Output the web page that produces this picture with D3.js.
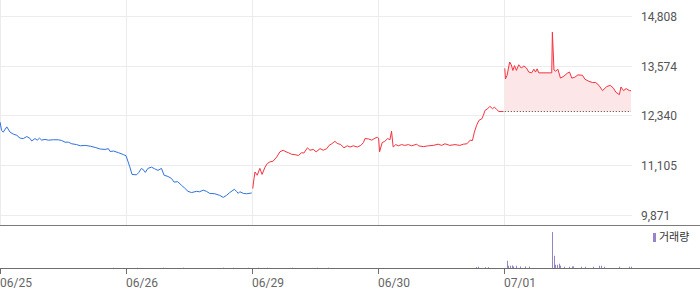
<!DOCTYPE html>
<html>
<head>
<meta charset="utf-8">
<script src="https://cdn.jsdelivr.net/npm/d3@7/dist/d3.min.js"></script>
<style>
    body { margin: 0; background: #fff; }
    svg { display: block; }
</style>
</head>
<body>
<script>
let days = ["06/25", "06/26", "06/29", "06/30", "07/01"];
let yTicks = [9871, 11105, 12340, 13574, 14808];
let prevClose = 12450;

// [minutes after 09:00, price]
let p0625 = [[0,12190],[5,11980],[10,11940],[21,12070],[31,11940],[41,11890],[52,11860],[62,11790],[72,11780],[83,11830],[93,11780],[98,11720],[108,11780],[115,11740],[122,11790],[129,11740],[139,11760],[149,11740],[165,11750],[180,11750],[191,11730],[201,11690],[211,11690],[222,11650],[237,11630],[248,11600],[263,11610],[279,11590],[294,11560],[310,11520],[325,11510],[335,11530],[340,11460],[351,11470],[366,11430],[382,11380],[390,11350]];
let p0626 = [[0,11340],[6,11200],[11,11080],[18,10890],[32,10880],[39,10940],[47,11040],[55,10990],[59,10940],[67,11040],[78,11070],[88,11030],[98,10990],[109,11040],[117,10870],[129,10840],[140,10790],[148,10700],[159,10710],[171,10620],[181,10550],[191,10470],[202,10440],[217,10470],[227,10460],[238,10500],[248,10470],[258,10420],[274,10410],[289,10370],[300,10320],[310,10370],[320,10440],[334,10520],[341,10470],[346,10420],[351,10460],[362,10420],[372,10410],[388,10430]];
let p0629 = [[1,10540],[5,10790],[8,10950],[15,10870],[23,11040],[30,10890],[39,11070],[46,11160],[54,11200],[64,11220],[75,11320],[85,11450],[95,11490],[104,11450],[111,11430],[121,11390],[132,11380],[142,11360],[152,11430],[159,11420],[170,11550],[178,11490],[188,11510],[197,11450],[209,11530],[219,11490],[230,11530],[237,11610],[245,11650],[255,11710],[262,11660],[273,11630],[283,11550],[293,11600],[302,11570],[312,11600],[324,11570],[335,11610],[343,11680],[348,11780],[359,11770],[369,11740],[379,11790],[386,11810]];
let p0630 = [[0,11790],[3,11450],[11,11680],[19,11710],[28,11780],[35,11750],[40,11960],[45,11570],[53,11630],[61,11600],[71,11630],[81,11610],[92,11630],[102,11600],[118,11640],[123,11600],[138,11580],[154,11600],[169,11610],[184,11640],[195,11610],[205,11650],[220,11610],[236,11630],[251,11610],[262,11640],[273,11650],[283,11740],[290,11730],[296,11940],[303,12110],[310,12230],[319,12270],[324,12360],[329,12480],[337,12520],[344,12580],[352,12520],[358,12560],[365,12500],[372,12450],[386,12450]];
let p0701 = [[0,13520],[2,13260],[7,13350],[15,13680],[20,13610],[25,13470],[30,13590],[36,13470],[43,13610],[51,13530],[59,13580],[67,13530],[74,13430],[83,13410],[90,13500],[95,13430],[100,13510],[105,13410],[121,13410],[145,13410],[147,14420],[152,13480],[157,13450],[164,13500],[172,13280],[183,13330],[193,13400],[200,13430],[207,13280],[216,13300],[226,13360],[240,13350],[248,13250],[260,13200],[271,13170],[281,13170],[291,13100],[302,12970],[315,13070],[326,13100],[336,13030],[343,12930],[354,12870],[359,13060],[367,12970],[375,13020],[385,12970],[390,12970]];

// [day index, minutes after 09:00, volume]
let volume = [
    [0,350,300],
    [1,33,300],[1,113,300],[1,175,300],[1,299,300],[1,330,300],[1,376,300],
    [2,17,300],[2,45,300],[2,122,300],[2,199,300],[2,233,300],
    [3,302,1000],[3,308,1300],[3,330,800],[3,339,800],
    [4,6,7300],[4,11,2300],[4,15,2300],[4,21,2600],[4,25,1600],[4,34,2300],[4,46,1600],[4,62,1600],[4,74,1600],
    [4,146,36300],[4,152,12300],[4,156,3300],[4,161,3300],[4,167,4300],[4,170,2300],[4,183,1300],[4,198,1300],
    [4,207,1600],[4,210,1600],[4,237,1300],[4,248,1300],[4,272,1300],[4,291,2300],[4,296,2300],[4,306,1300],
    [4,354,1300],[4,384,1300],[4,389,1300]
];

const W = 700, H = 289;
const dayLen = 390;
const blue = "#2f72de", red = "#f5323f", volColor = "#9583cc";

let svg = d3.select("body").append("svg")
    .attr("width", W)
    .attr("height", H)
    .style("font-family", "Roboto, sans-serif");

let x = d3.scaleLinear().domain([0, days.length * dayLen]).range([0, 631]);
let y = d3.scaleLinear().domain([9871, 14808]).range([215.5, 16.5]);
let vy = d3.scaleLinear().domain([0, d3.max(volume, d => d[2])]).range([268, 232]);

function toPts(arr, day) {
    return arr.map(d => ({ t: day * dayLen + d[0], v: d[1] }));
}

// grid
svg.append("g").selectAll("line")
    .data(yTicks)
    .enter().append("line")
    .attr("x1", 0).attr("x2", 632)
    .attr("y1", d => Math.floor(y(d)) + 0.5)
    .attr("y2", d => Math.floor(y(d)) + 0.5)
    .attr("stroke", "#ececec");

svg.append("g").selectAll("line")
    .data(days)
    .enter().append("line")
    .attr("x1", (d, i) => Math.floor(x(i * dayLen)) + 0.5)
    .attr("x2", (d, i) => Math.floor(x(i * dayLen)) + 0.5)
    .attr("y1", 0).attr("y2", 225)
    .attr("stroke", "#ececec");

// y labels
svg.append("g").selectAll("text")
    .data(yTicks)
    .enter().append("text")
    .attr("x", 641)
    .attr("y", d => Math.floor(y(d)) + 4.5)
    .attr("font-size", 12)
    .attr("fill", "#555")
    .text(d => d3.format(",")(d));

let line = d3.line().x(d => x(d.t)).y(d => y(d.v));

// 06/25 - 06/26 blue
let bluePts = toPts(p0625, 0).concat(toPts(p0626, 1));
svg.append("path")
    .attr("d", line(bluePts))
    .attr("fill", "none")
    .attr("stroke", blue)
    .attr("stroke-width", 1);

// 06/29 - 06/30 red
let redPts = toPts(p0629, 2).concat(toPts(p0630, 3));
svg.append("path")
    .attr("d", line(redPts))
    .attr("fill", "none")
    .attr("stroke", red)
    .attr("stroke-width", 1);

// 07/01 with area vs previous close
let lastPts = toPts(p0701, 4);
let area = d3.area().x(d => x(d.t)).y0(y(prevClose)).y1(d => y(d.v));
svg.append("path")
    .attr("d", area(lastPts))
    .attr("fill", "#fde6e8");

svg.append("line")
    .attr("x1", x(4 * dayLen)).attr("x2", x(5 * dayLen))
    .attr("y1", Math.floor(y(prevClose)) + 0.5)
    .attr("y2", Math.floor(y(prevClose)) + 0.5)
    .attr("stroke", "#444")
    .attr("stroke-dasharray", "1,2");

svg.append("path")
    .attr("d", line(lastPts))
    .attr("fill", "none")
    .attr("stroke", red)
    .attr("stroke-width", 1);

// panel separator
svg.append("line")
    .attr("x1", 0).attr("x2", W)
    .attr("y1", 225.5).attr("y2", 225.5)
    .attr("stroke", "#7a7a7a");

// volume bars
svg.append("g").selectAll("rect")
    .data(volume)
    .enter().append("rect")
    .attr("x", d => Math.round(x(d[0] * dayLen + d[1])))
    .attr("y", d => vy(d[2]))
    .attr("width", 1)
    .attr("height", d => 268 - vy(d[2]))
    .attr("fill", volColor);

// bottom axis
svg.append("line")
    .attr("x1", 0).attr("x2", W)
    .attr("y1", 268.5).attr("y2", 268.5)
    .attr("stroke", "#6e6e6e");

let xt = svg.append("g").selectAll("g")
    .data(days)
    .enter().append("g")
    .attr("transform", (d, i) => `translate(${Math.floor(x(i * dayLen)) + 0.5},0)`);

xt.append("line")
    .attr("y1", 268.5).attr("y2", 274)
    .attr("stroke", "#6e6e6e");

xt.append("text")
    .attr("x", -0.5)
    .attr("y", 287)
    .attr("font-size", 12)
    .attr("fill", "#666")
    .text(d => d);

// legend
svg.append("rect")
    .attr("x", 653).attr("y", 233)
    .attr("width", 3).attr("height", 9)
    .attr("fill", volColor);

svg.append("text")
    .attr("x", 659)
    .attr("y", 241)
    .attr("font-size", 11)
    .attr("font-family", "'Noto Sans CJK KR', sans-serif")
    .attr("fill", "#333")
    .text("거래량");
</script>
</body>
</html>
